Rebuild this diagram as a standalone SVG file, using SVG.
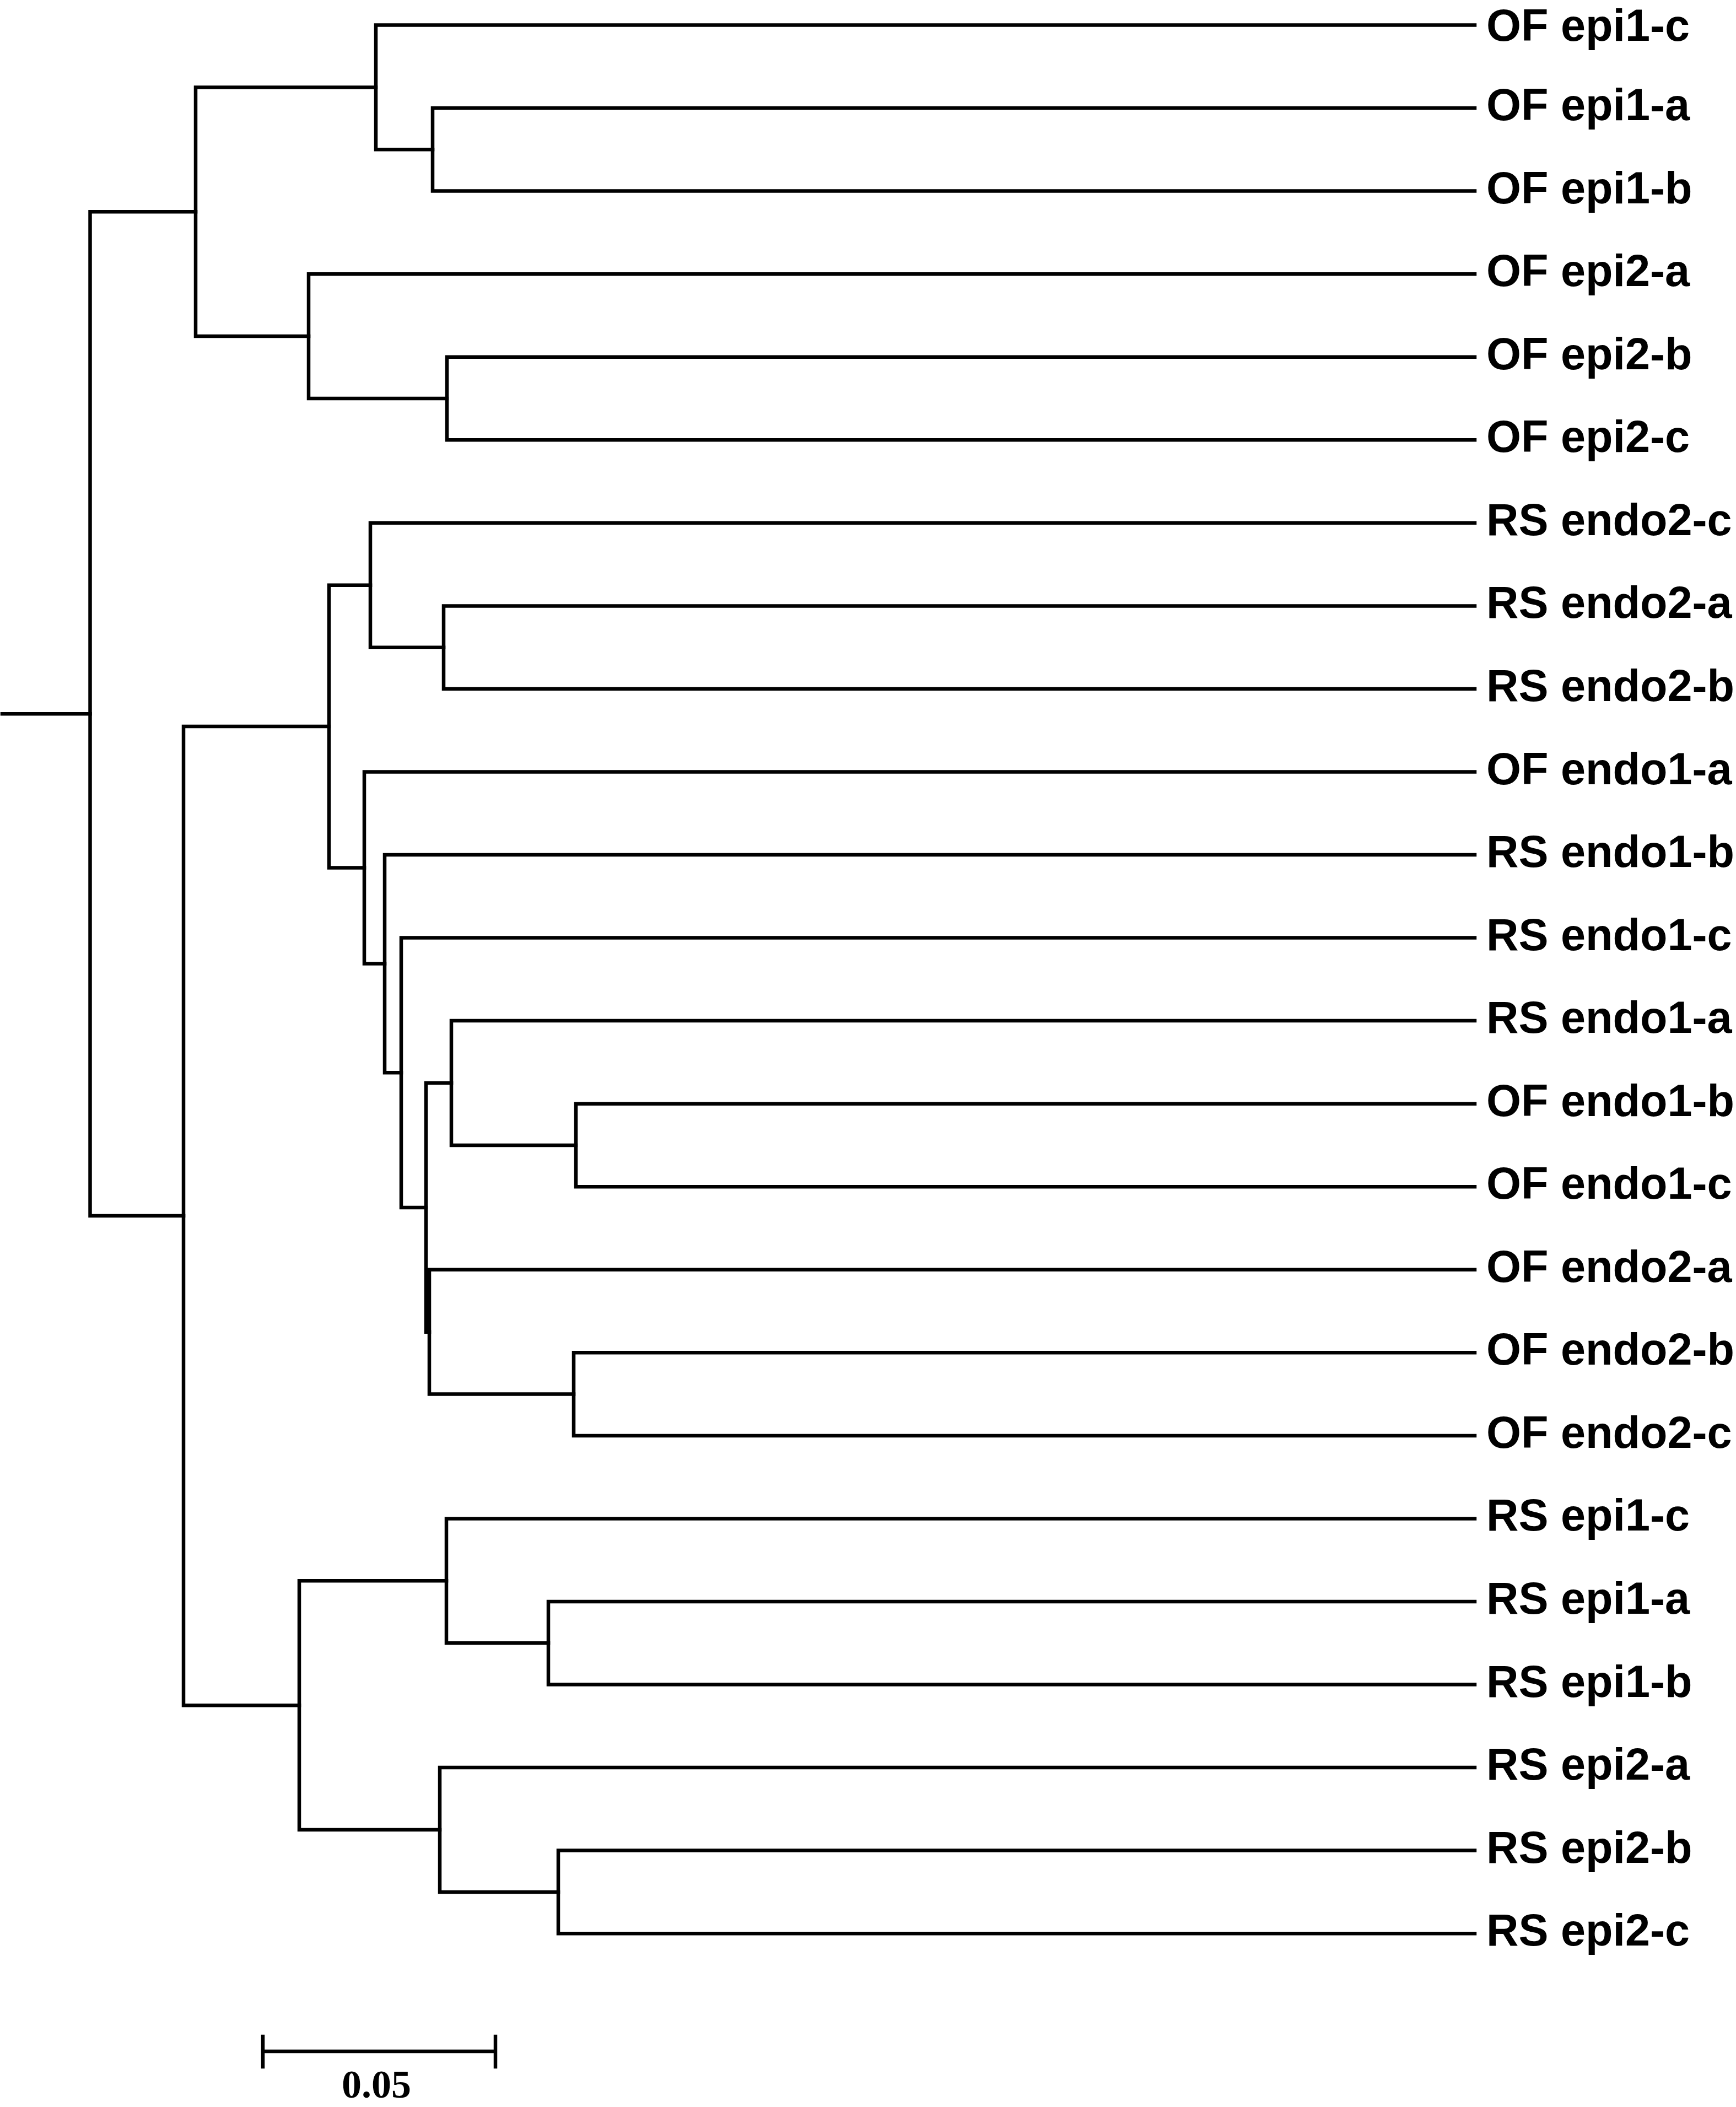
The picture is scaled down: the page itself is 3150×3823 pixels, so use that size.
<svg xmlns="http://www.w3.org/2000/svg" width="3150" height="3823" viewBox="0 0 3150 3823">
<style>
.br{fill:none;stroke:#000;stroke-width:6.5;stroke-linecap:square;stroke-linejoin:miter}
.lb{font-family:"Liberation Sans",Arial,sans-serif;font-weight:bold;font-size:81px;fill:#000}
.sc{font-family:"Liberation Serif","Times New Roman",serif;font-weight:bold;font-size:72px;fill:#000}
</style>
<rect width="3150" height="3823" fill="#fff"/>
<g id="connectors">
<path class="br" d="M4 1295.2 H163.5"/>
<path class="br" d="M355 384.25 H163.5 V2206.1 H333"/>
<path class="br" d="M682 158.4 H355 V610.1 H560"/>
<path class="br" d="M2676 45.5 H682 V271.35 H785"/>
<path class="br" d="M2676 196.1 H785 V346.6 H2676"/>
<path class="br" d="M2676 497.2 H560 V723 H811"/>
<path class="br" d="M2676 647.7 H811 V798.3 H2676"/>
<path class="br" d="M597 1318.1 H333 V3094.15 H543"/>
<path class="br" d="M672 1061.7 H597 V1574.55 H661"/>
<path class="br" d="M2676 948.8 H672 V1174.65 H805"/>
<path class="br" d="M2676 1099.4 H805 V1249.9 H2676"/>
<path class="br" d="M2676 1400.5 H661 V1748.6 H698"/>
<path class="br" d="M2676 1551 H698 V1946.25 H728"/>
<path class="br" d="M2676 1701.6 H728 V2190.9 H773"/>
<path class="br" d="M819 1965 H773 V2416.7 H779"/>
<path class="br" d="M2676 1852.1 H819 V2077.95 H1045"/>
<path class="br" d="M2676 2002.7 H1045 V2153.2 H2676"/>
<path class="br" d="M2676 2303.8 H779 V2529.6 H1041"/>
<path class="br" d="M2676 2454.3 H1041 V2604.9 H2676"/>
<path class="br" d="M810 2868.3 H543 V3320 H798"/>
<path class="br" d="M2676 2755.4 H810 V2981.25 H995"/>
<path class="br" d="M2676 2906 H995 V3056.5 H2676"/>
<path class="br" d="M2676 3207.1 H798 V3432.9 H1013"/>
<path class="br" d="M2676 3357.6 H1013 V3508.2 H2676"/>
</g>
<g id="leaf-OF-epi1-c"><text class="lb" x="2697" y="74">OF epi1-c</text></g>
<g id="leaf-OF-epi1-a"><text class="lb" x="2697" y="218.1">OF epi1-a</text></g>
<g id="leaf-OF-epi1-b"><text class="lb" x="2697" y="368.6">OF epi1-b</text></g>
<g id="leaf-OF-epi2-a"><text class="lb" x="2697" y="519.2">OF epi2-a</text></g>
<g id="leaf-OF-epi2-b"><text class="lb" x="2697" y="669.7">OF epi2-b</text></g>
<g id="leaf-OF-epi2-c"><text class="lb" x="2697" y="820.3">OF epi2-c</text></g>
<g id="leaf-RS-endo2-c"><text class="lb" x="2697" y="970.8">RS endo2-c</text></g>
<g id="leaf-RS-endo2-a"><text class="lb" x="2697" y="1121.4">RS endo2-a</text></g>
<g id="leaf-RS-endo2-b"><text class="lb" x="2697" y="1271.9">RS endo2-b</text></g>
<g id="leaf-OF-endo1-a"><text class="lb" x="2697" y="1422.5">OF endo1-a</text></g>
<g id="leaf-RS-endo1-b"><text class="lb" x="2697" y="1573">RS endo1-b</text></g>
<g id="leaf-RS-endo1-c"><text class="lb" x="2697" y="1723.6">RS endo1-c</text></g>
<g id="leaf-RS-endo1-a"><text class="lb" x="2697" y="1874.1">RS endo1-a</text></g>
<g id="leaf-OF-endo1-b"><text class="lb" x="2697" y="2024.7">OF endo1-b</text></g>
<g id="leaf-OF-endo1-c"><text class="lb" x="2697" y="2175.2">OF endo1-c</text></g>
<g id="leaf-OF-endo2-a"><text class="lb" x="2697" y="2325.8">OF endo2-a</text></g>
<g id="leaf-OF-endo2-b"><text class="lb" x="2697" y="2476.3">OF endo2-b</text></g>
<g id="leaf-OF-endo2-c"><text class="lb" x="2697" y="2626.9">OF endo2-c</text></g>
<g id="leaf-RS-epi1-c"><text class="lb" x="2697" y="2777.4">RS epi1-c</text></g>
<g id="leaf-RS-epi1-a"><text class="lb" x="2697" y="2928">RS epi1-a</text></g>
<g id="leaf-RS-epi1-b"><text class="lb" x="2697" y="3078.5">RS epi1-b</text></g>
<g id="leaf-RS-epi2-a"><text class="lb" x="2697" y="3229.1">RS epi2-a</text></g>
<g id="leaf-RS-epi2-b"><text class="lb" x="2697" y="3379.6">RS epi2-b</text></g>
<g id="leaf-RS-epi2-c"><text class="lb" x="2697" y="3530.2">RS epi2-c</text></g>
<g id="scale-bar">
<path class="br" d="M477 3722 H899 M477 3695 V3750 M899 3695 V3750"/>
<text class="sc" x="683" y="3806" text-anchor="middle">0.05</text>
</g>
</svg>
